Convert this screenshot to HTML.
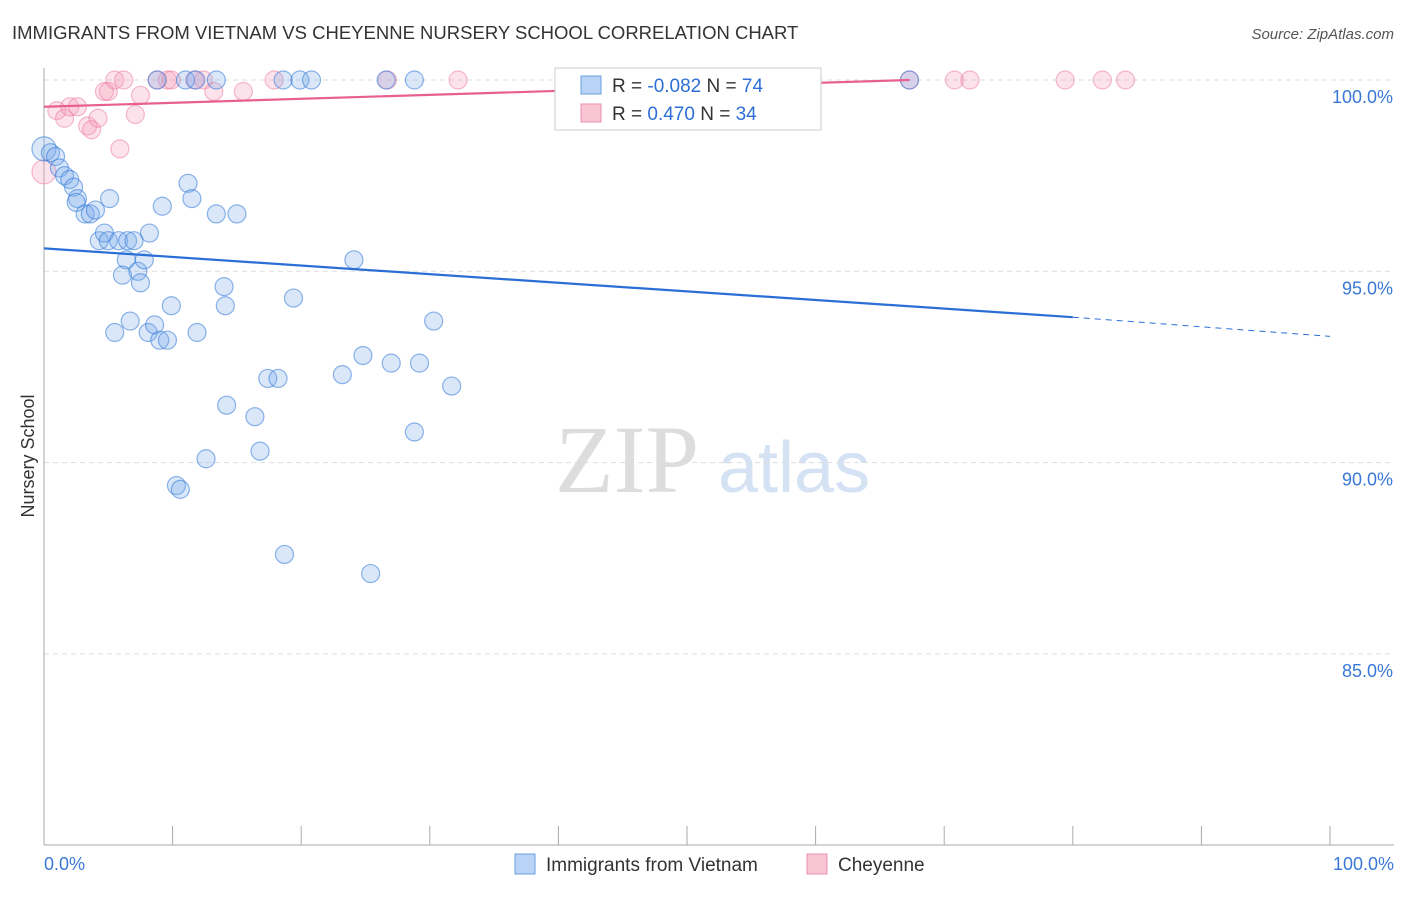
<!DOCTYPE html>
<html><head><meta charset="utf-8"><style>
body{margin:0;background:#fff;font-family:"Liberation Sans",sans-serif}
</style></head><body>
<svg id="c" width="1406" height="892" xmlns="http://www.w3.org/2000/svg">
<text x="12" y="39" font-size="18.5" fill="#333">IMMIGRANTS FROM VIETNAM VS CHEYENNE NURSERY SCHOOL CORRELATION CHART</text>
<text x="1394" y="39" font-size="15" fill="#555" text-anchor="end" font-style="italic">Source: ZipAtlas.com</text>
<text x="34" y="456" font-size="18" fill="#333" text-anchor="middle" transform="rotate(-90 34 456)">Nursery School</text>
<text x="555" y="492" font-size="96" fill="#ddd" font-family="Liberation Serif,serif">ZIP</text>
<text x="718" y="492" font-size="72" fill="#d4e2f4">atlas</text>
<g id="grid"></g><g id="pts"></g><g id="lines"></g>
<g>
<rect x="555" y="68" width="266" height="62" fill="#fff" stroke="#ccc"/>
<rect x="581" y="76" width="20" height="18" fill="#b8d3f5" stroke="#6a9fe0"/>
<text x="612" y="92" font-size="19" fill="#333">R = <tspan fill="#2d6fd6">-0.082</tspan>   N = <tspan fill="#2d6fd6">74</tspan></text>
<rect x="581" y="104" width="20" height="18" fill="#f8c5d5" stroke="#ec8fac"/>
<text x="612" y="120" font-size="19" fill="#333">R =  <tspan fill="#2d6fd6"> 0.470</tspan>   N = <tspan fill="#2d6fd6">34</tspan></text>
</g>
<g>
<rect x="515" y="854" width="20" height="20" fill="#b8d3f5" stroke="#6a9fe0"/>
<text x="546" y="871" font-size="19" fill="#333">Immigrants from Vietnam</text>
<rect x="807" y="854" width="20" height="20" fill="#f8c5d5" stroke="#ec8fac"/>
<text x="838" y="871" font-size="19" fill="#333">Cheyenne</text>
</g>
<text x="44" y="870" font-size="18" fill="#3a78d6">0.0%</text>
<text x="1394" y="870" font-size="18" fill="#3a78d6" text-anchor="end">100.0%</text>
</svg>
<script>
const yTicks=[100,95,90,85];
const blueX=[0,0.5,0.9,1.2,1.6,2,2.3,2.6,2.5,3.2,3.6,4,5.1,4.3,4.7,5,5.8,6.5,7,8.2,6.4,6.1,7.3,7.5,7.8,9.2,11.2,11.5,13.4,15,24.1,5.5,6.7,8.1,8.6,9,9.6,9.9,11.9,14,14.1,19.4,30.3,24.8,27,29.2,23.2,17.4,18.2,31.7,14.2,16.4,28.8,16.8,12.6,10.3,10.6,18.7,25.4,8.8,11,11.8,13.4,18.6,19.9,20.8,26.6,28.8,43.2,67.3];
const blueY=[98.2,98.1,98,97.7,97.5,97.4,97.2,96.9,96.8,96.5,96.5,96.6,96.9,95.8,96,95.8,95.8,95.8,95.8,96,95.3,94.9,95,94.7,95.3,96.7,97.3,96.9,96.5,96.5,95.3,93.4,93.7,93.4,93.6,93.2,93.2,94.1,93.4,94.6,94.1,94.3,93.7,92.8,92.6,92.6,92.3,92.2,92.2,92,91.5,91.2,90.8,90.3,90.1,89.4,89.3,87.6,87.1,100,100,100,100,100,100,100,100,100,100,100];
const pinkX=[0,1,1.6,2,2.6,3.4,3.7,4.2,4.7,5,5.9,7.1,7.5,5.5,6.2,8.8,9.6,9.9,11.7,12.4,13.2,15.5,17.9,26.7,32.2,67.3,70.8,72,79.4,82.3,84.1];
const pinkY=[97.6,99.2,99,99.3,99.3,98.8,98.7,99,99.7,99.7,98.2,99.1,99.6,100,100,100,100,100,100,100,99.7,99.7,100,100,100,100,100,100,100,100,100];
const blueTrend=[95.6,93.8,93.3];
const pinkTrend=[99.3,100];
const X=v=>44+v*12.86, Y=v=>80+(100-v)*38.26;
const ns="http://www.w3.org/2000/svg";
function mk(t,a,p,before){const e=document.createElementNS(ns,t);for(const k in a)e.setAttribute(k,a[k]);p.appendChild(e);return e;}
const grid=document.getElementById('grid');
yTicks.forEach(t=>{
const l=mk('line',{x1:44,x2:1394,y1:Y(t),y2:Y(t),stroke:'#ddd','stroke-dasharray':'5,4'},grid);


const tx=mk('text',{x:1393,y:Y(t)+23,'font-size':18,fill:'#3a78d6','text-anchor':'end'},grid);tx.textContent=t.toFixed(1)+'%';


});
mk('line',{x1:44,x2:44,y1:68,y2:845,stroke:'#aaa'},grid);
mk('line',{x1:44,x2:1394,y1:845,y2:845,stroke:'#aaa'},grid);
for(let i=0;i<=10;i++){const t=mk('line',{x1:X(i*10),x2:X(i*10),y1:826,y2:845,stroke:'#aaa'},grid);

}
const pts=document.getElementById('pts');
pinkX.forEach((x,i)=>{const c=mk('circle',{cx:X(x),cy:Y(pinkY[i]),r:i==0?12:9,fill:'rgba(244,150,180,0.28)',stroke:'rgba(236,120,160,0.5)','stroke-width':1.2},pts);

});
blueX.forEach((x,i)=>{const c=mk('circle',{cx:X(x),cy:Y(blueY[i]),r:i==0?12:9,fill:'rgba(120,170,235,0.28)',stroke:'rgba(50,120,215,0.55)','stroke-width':1.2},pts);

});
const lines=document.getElementById('lines');
let b=mk('line',{x1:X(0),y1:Y(blueTrend[0]),x2:X(80),y2:Y(blueTrend[1]),stroke:'#2a6fd6','stroke-width':2.2},lines);


let bd=mk('line',{x1:X(80),y1:Y(blueTrend[1]),x2:X(100),y2:Y(blueTrend[2]),stroke:'#2a6fd6','stroke-width':1,'stroke-dasharray':'6,5'},lines);


let p=mk('line',{x1:X(0),y1:Y(pinkTrend[0]),x2:X(67.3),y2:Y(pinkTrend[1]),stroke:'#e8608e','stroke-width':2.2},lines);


</script>
</body></html>
